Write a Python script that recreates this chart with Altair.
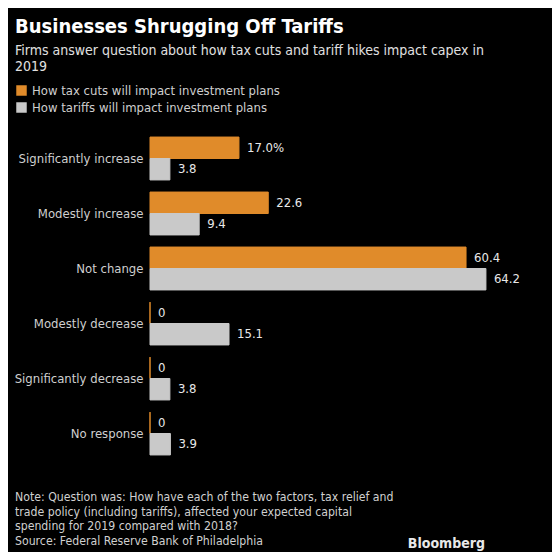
import altair as alt
import pandas as pd

categories = ["Significantly increase", "Modestly increase", "Not change",
              "Modestly decrease", "Significantly decrease", "No response"]
series = ["How tax cuts will impact investment plans",
          "How tariffs will impact investment plans"]
tax_values = [17.0, 22.6, 60.4, 0, 0, 0]
tariff_values = [3.8, 9.4, 64.2, 15.1, 3.8, 3.9]
tax_labels = ["17.0%", "22.6", "60.4", "0", "0", "0"]
tariff_labels = ["3.8", "9.4", "64.2", "15.1", "3.8", "3.9"]
colors = ["#e08b2a", "#c9c9c9"]

title_text = "Businesses Shrugging Off Tariffs"
subtitle_lines = ["Firms answer question about how tax cuts and tariff hikes impact capex in", "2019"]
note_lines = ["Note: Question was: How have each of the two factors, tax relief and",
              "trade policy (including tariffs), affected your expected capital",
              "spending for 2019 compared with 2018?",
              "Source: Federal Reserve Bank of Philadelphia"]

rows = []
for c, v, l in zip(categories, tax_values, tax_labels):
    rows.append({"cat": c, "series": series[0], "value": v, "label": l})
for c, v, l in zip(categories, tariff_values, tariff_labels):
    rows.append({"cat": c, "series": series[1], "value": v, "label": l})
df = pd.DataFrame(rows)

FONT = "DejaVu Sans Condensed"

y_enc = alt.Y("cat:N", sort=categories, title=None,
              scale=alt.Scale(paddingInner=0.22, paddingOuter=0.11),
              axis=alt.Axis(domain=False, ticks=False, labelPadding=7,
                            labelFontSize=13, labelColor="#cfcfcf", labelFont=FONT))
yoff = alt.YOffset("series:N", sort=series)
x_enc = alt.X("value:Q", axis=None, scale=alt.Scale(domain=[0, 68.8], nice=False))
color_enc = alt.Color("series:N", sort=series,
                      scale=alt.Scale(domain=series, range=colors),
                      legend=alt.Legend(title=None, orient="none", legendX=-135, legendY=-47,
                                        symbolType="square", symbolSize=110,
                                        symbolStrokeWidth=0, labelFontSize=13,
                                        labelColor="#cfcfcf", labelFont=FONT, labelLimit=0,
                                        rowPadding=3, padding=0, symbolOffset=0))

bars = alt.Chart(df).mark_bar(strokeWidth=1).encode(
    y=y_enc, yOffset=yoff, x=x_enc, color=color_enc,
    stroke=alt.Stroke("series:N", sort=series,
                      scale=alt.Scale(domain=series, range=colors), legend=None)
)

labels = alt.Chart(df).mark_text(align="left", baseline="middle", dx=8,
                                 fontSize=13, color="#e8e8e8", font=FONT).encode(
    y=alt.Y("cat:N", sort=categories), yOffset=yoff, x="value:Q", text="label:N"
)

def txt(lines, x, y, size, color, weight="normal", align="left", lh=None):
    d = pd.DataFrame({"t": ["\n".join(lines)]})
    kw = dict(align=align, baseline="alphabetic", fontSize=size, color=color,
              fontWeight=weight, font=FONT, lineBreak="\n")
    if lh:
        kw["lineHeight"] = lh
    return alt.Chart(d).mark_text(**kw).encode(text="t:N", x=alt.value(x), y=alt.value(y))

title = txt([title_text], -135, -98, 20, "#ffffff", weight="bold")
subtitle = txt(subtitle_lines, -135, -76, 14, "#e0e0e0", lh=15.5)
note = txt(note_lines, -135, 370, 12.2, "#d0d0d0", lh=14.5)
logo = txt(["Bloomberg"], 335, 417, 14, "#e8e8e8", weight="bold", align="right")

chart = alt.layer(bars, labels, title, subtitle, note, logo).properties(
    width=360, height=330,
    padding={"left": 142, "top": 123, "right": 42, "bottom": 91},
    autosize=alt.AutoSizeParams(type="none"),
).configure(background="#000000").configure_view(stroke=None)

chart.save("out.html", embed_options={"renderer": "svg", "actions": False})
